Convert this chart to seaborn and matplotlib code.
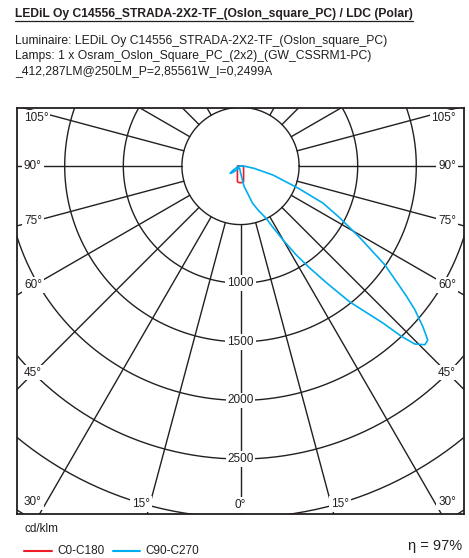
import numpy as np
import pandas as pd
import seaborn as sns
import matplotlib.pyplot as plt
from matplotlib.lines import Line2D

# ==================== DATA (cd/klm vs gamma, deg from nadir) ====================

c0_gamma = [0, 5, 8, 11, 15, 20, 30, 45, 60, 75, 90, 95, 100, 110]
c0_cd = [142, 142, 140, 136, 102, 77, 53, 37, 30, 27, 26, 20, 5, 0]

c90_gamma = [0, 5, 10, 18, 22, 26, 28, 30, 32, 34, 36.5, 38.8, 42.2, 43.4, 44.4, 45.9,
             47.1, 48.6, 50.5, 52, 55.6, 59, 62.4, 65.8, 69, 74.5, 80, 85, 90, 95]
c90_cd = [55, 85, 175, 335, 410, 494, 600, 735, 890, 1040, 1250, 1489, 1808, 2005, 2126, 2191,
          2181, 2075, 1928, 1790, 1493, 1189, 957, 771, 525, 287, 120, 45, 15, 0]

c270_gamma = [0, 10, 20, 37, 45, 50, 55, 60, 66, 75, 90, 95]
c270_cd = [55, 30, 20, 21, 50, 85, 109, 75, 42, 20, 5, 0]

rings = [500, 1000, 1500, 2000, 2500, 3000, 3500]
ring_labels = [1000, 1500, 2000, 2500]
angle_ticks = [0, 15, 30, 45, 60, 75, 90, 105]

title = "LEDiL Oy C14556_STRADA-2X2-TF_(Oslon_square_PC) / LDC (Polar)"
info = ["Luminaire: LEDiL Oy C14556_STRADA-2X2-TF_(Oslon_square_PC)",
        "Lamps: 1 x Osram_Oslon_Square_PC_(2x2)_(GW_CSSRM1-PC)",
        "_412,287LM@250LM_P=2,85561W_I=0,2499A"]
eta_text = "\u03b7 = 97%"

RED = "#ed1c24"
BLUE = "#00aeef"
GRID = "#231f20"

# ==================== BUILD CURVES ====================


def half(gamma, cd, side, plane):
    g = np.radians(gamma)
    cd = np.asarray(cd, dtype=float)
    return pd.DataFrame({"x": side * cd * np.sin(g), "y": -cd * np.cos(g), "plane": plane})


red = pd.concat([half(c0_gamma, c0_cd, -1, "C0-C180").iloc[::-1],
                 half(c0_gamma, c0_cd, 1, "C0-C180")])
blue = pd.concat([half(c270_gamma, c270_cd, -1, "C90-C270").iloc[::-1],
                  half(c90_gamma, c90_cd, 1, "C90-C270")])
curves = pd.concat([red, blue], ignore_index=True)

# ==================== FIGURE ====================

W, H = 469, 558
sns.set_style("white")
plt.rcParams["font.family"] = ["Liberation Sans", "DejaVu Sans"]

fig = plt.figure(figsize=(W / 100, H / 100), dpi=100)

# pixel geometry of the diagram box
cx, cy = 240.5, 166.0
k = 0.1172  # px per cd
bl, br, bt, bb = 17, 464, 108, 514
ax = fig.add_axes([bl / W, 1 - bb / H, (br - bl) / W, (bb - bt) / H])
ax.set_xlim((bl - cx) / k, (br - cx) / k)
ax.set_ylim((cy - bb) / k, (cy - bt) / k)


def X(px):
    return (px - cx) / k


def Y(py):
    return (cy - py) / k


# grid
t = np.linspace(0, 2 * np.pi, 400)
for r in rings:
    ax.plot(r * np.cos(t), r * np.sin(t), color=GRID, lw=1.0, zorder=1)
for a in range(0, 360, 15):
    ar = np.radians(a)
    ax.plot([500 * np.sin(ar), 6000 * np.sin(ar)], [-500 * np.cos(ar), -6000 * np.cos(ar)],
            color=GRID, lw=1.0, zorder=1)

for s in ax.spines.values():
    s.set_color(GRID)
    s.set_linewidth(1.3)
ax.set_xticks([])
ax.set_yticks([])

sns.lineplot(data=curves, x="x", y="y", hue="plane", sort=False, estimator=None,
             palette={"C0-C180": RED, "C90-C270": BLUE}, lw=1.2, legend=False,
             ax=ax, zorder=5)
ax.set_xlabel("")
ax.set_ylabel("")

box = dict(boxstyle="square,pad=0.15", fc="white", ec="none")
for r in ring_labels:
    ax.text(0, -r, str(r), ha="center", va="center", fontsize=8.5, color="#231f20",
            bbox=box, zorder=3)

# angle labels
for a in angle_ticks:
    for side in (-1, 1):
        if a == 0 and side == 1:
            continue
        lab = f"{a}\u00b0"
        if a == 0:
            px, py, ha = cx, 505, "center"
        elif a == 15:
            py = 504
            px = cx + side * (py - cy) * np.tan(np.radians(a))
            ha = "right" if side < 0 else "left"
        else:
            px = 24 if side < 0 else 456
            ha = "left" if side < 0 else "right"
            xe = 34 if side < 0 else 447
            py = cy + abs(xe - cx) / np.tan(np.radians(a))
            py = min(max(py, 118), 502)
        ax.text(X(px), Y(py), lab, ha=ha, va="center", fontsize=8.5, color="#231f20",
                bbox=box, zorder=3)

# ==================== TEXTS ====================


def ftext(px, py, s, **kw):
    return fig.text(px / W, 1 - py / H, s, va="center", color="#231f20", **kw)


tt = ftext(15, 14, title, fontsize=8.7, fontweight="bold")
for i, line in enumerate(info):
    ftext(15, 41 + 15 * i, line, fontsize=8.7)

ftext(24, 529, "cd/klm", fontsize=8.5)
fig.add_artist(Line2D([24 / W, 52 / W], [1 - 551 / H] * 2, color=RED, lw=1.5))
ftext(57, 551, "C0-C180", fontsize=8.5)
fig.add_artist(Line2D([113 / W, 140 / W], [1 - 551 / H] * 2, color=BLUE, lw=1.5))
ftext(145, 551, "C90-C270", fontsize=8.5)
ftext(462, 546, eta_text, fontsize=10.5, ha="right")

fig.canvas.draw()
ext = tt.get_window_extent().transformed(fig.transFigure.inverted())
fig.add_artist(Line2D([ext.x0, ext.x1], [1 - 21 / H] * 2, color="#231f20", lw=0.9))

plt.savefig("out.png", dpi=100)
plt.close()
